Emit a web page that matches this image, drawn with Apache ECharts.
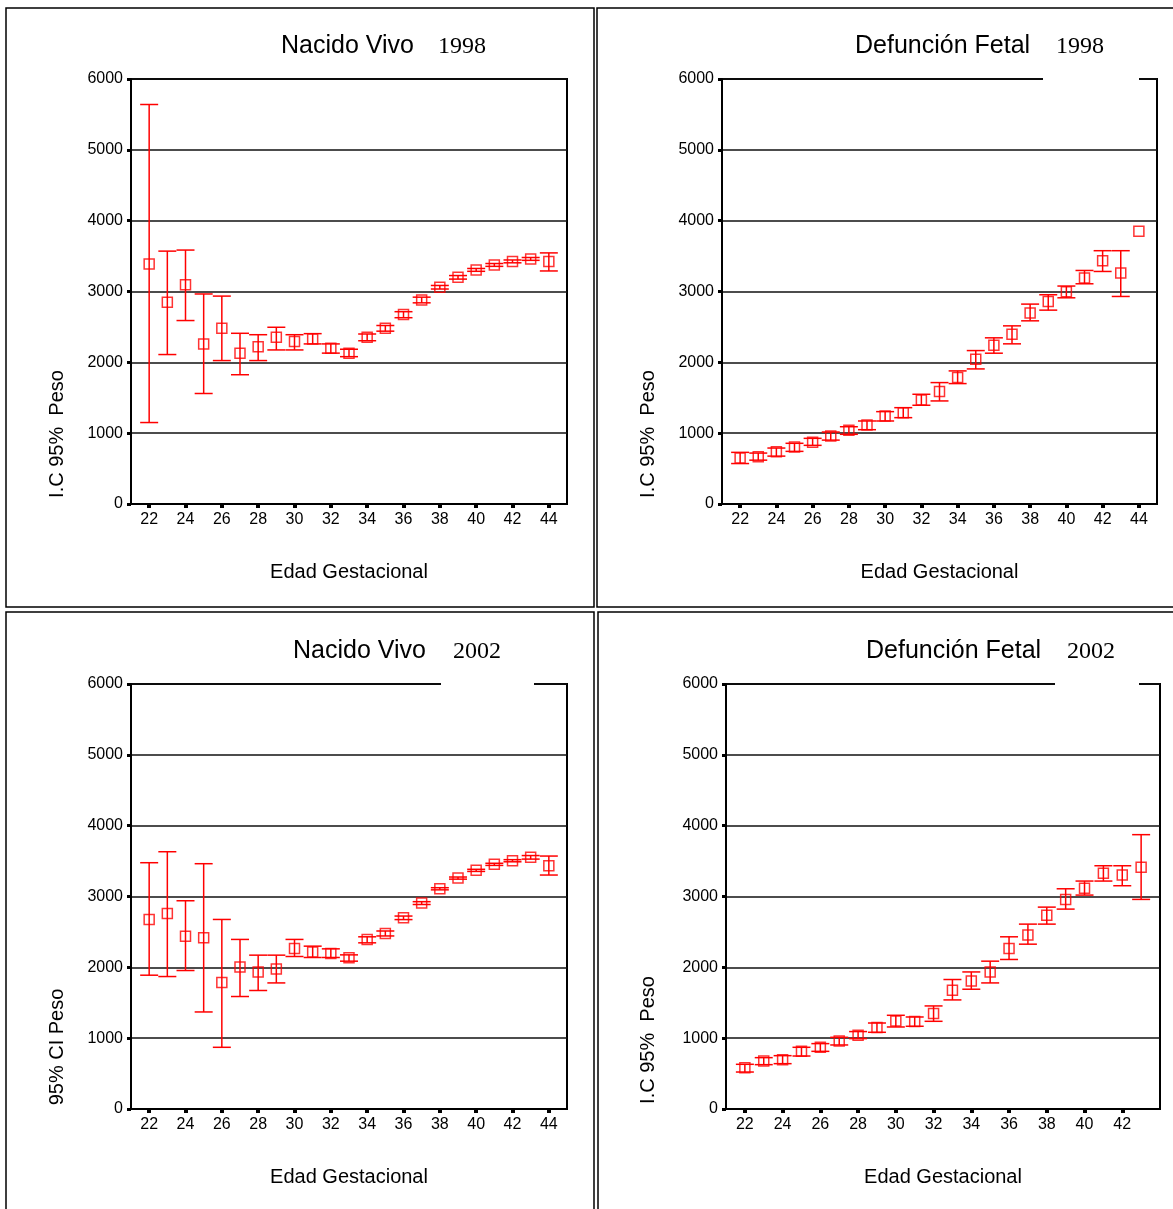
<!DOCTYPE html>
<html>
<head>
<meta charset="utf-8">
<script src="https://cdn.jsdelivr.net/npm/echarts@6/dist/echarts.min.js"></script>
<style>html,body{margin:0;padding:0;background:#fff}#c{width:1173px;height:1209px}</style>
</head>
<body>
<div id="c"></div>
<script>
// ---- Data ----
const ages1 = [22,23,24,25,26,27,28,29,30,31,32,33,34,35,36,37,38,39,40,41,42,43,44];
const ages4 = [22,23,24,25,26,27,28,29,30,31,32,33,34,35,36,37,38,39,40,41,42,43];
const ticksA = [22,24,26,28,30,32,34,36,38,40,42,44];
const ticksB = [22,24,26,28,30,32,34,36,38,40,42];

const nv98Mean = [3390,2850,3095,2260,2480,2130,2220,2355,2295,2330,2200,2130,2355,2480,2675,2880,3060,3200,3305,3375,3425,3460,3425];
const nv98Lo   = [1150,2110,2590,1560,2025,1825,2025,2175,2175,2260,2130,2080,2305,2440,2630,2840,3035,3175,3285,3355,3405,3440,3290];
const nv98Hi   = [5640,3570,3585,2965,2935,2410,2390,2495,2390,2405,2260,2185,2400,2520,2715,2920,3085,3225,3325,3395,3445,3480,3545];

const df98Mean = [650,667,738,805,871,959,1040,1115,1243,1290,1469,1587,1785,2044,2242,2398,2695,2859,2996,3190,3434,3260,3849];
const df98Lo   = [571,619,676,743,828,902,984,1049,1172,1219,1394,1455,1700,1907,2129,2261,2586,2737,2911,3109,3283,2930,3849];
const df98Hi   = [729,719,790,857,927,1016,1091,1172,1304,1360,1549,1714,1879,2166,2346,2515,2822,2954,3077,3297,3576,3576,3849];

const nv02Mean = [2676,2761,2440,2416,1786,2006,1935,1978,2266,2218,2196,2134,2394,2478,2699,2907,3109,3260,3369,3454,3505,3553,3434];
const nv02Lo   = [1889,1870,1955,1370,871,1588,1673,1780,2153,2139,2139,2087,2346,2443,2674,2887,3094,3245,3354,3439,3490,3528,3303];
const nv02Hi   = [3477,3632,2940,3463,2676,2394,2172,2172,2394,2299,2261,2176,2431,2513,2724,2927,3124,3275,3384,3469,3520,3578,3571];

const df02Mean = [584,677,697,814,871,960,1041,1149,1243,1234,1347,1677,1808,1935,2266,2455,2737,2959,3115,3327,3303,3412];
const df02Lo   = [522,626,640,748,814,904,994,1083,1158,1168,1238,1540,1691,1780,2111,2327,2610,2822,3020,3218,3152,2959];
const df02Hi   = [631,725,753,871,923,1012,1093,1214,1323,1299,1455,1828,1935,2087,2431,2610,2850,3109,3218,3434,3434,3873];

const titlesMain = ['Nacido Vivo','Defunción Fetal','Nacido Vivo','Defunción Fetal'];
const titlesYear = ['1998','1998','2002','2002'];
const yNames = ['I.C 95%  Peso','I.C 95%  Peso','95% CI Peso','I.C 95%  Peso'];
const xName = 'Edad Gestacional';

// ---- Chart ----
const RED = '#ff0000';
const SANS = '"Liberation Sans", Arial, sans-serif';
const SERIF = '"Liberation Serif", "Times New Roman", serif';

const grids = [
  {left:131, top:79, width:436, height:425},
  {left:722, top:79, width:435, height:425},
  {left:131, top:684, width:436, height:425},
  {left:726, top:684, width:434, height:425}
];
const xMax = [45,45,45,44];
const xTicks = [ticksA, ticksA, ticksA, ticksB];

function errRender(params, api) {
  const x = api.value(0), lo = api.value(1), hi = api.value(2);
  if (!(hi > lo)) return null;
  const p1 = api.coord([x, hi]), p2 = api.coord([x, lo]);
  const w = 9;
  const st = {stroke: RED, lineWidth: 1.5, fill: null};
  return {type:'group', children:[
    {type:'line', shape:{x1:p1[0], y1:p1[1], x2:p2[0], y2:p2[1]}, style:st},
    {type:'line', shape:{x1:p1[0]-w, y1:p1[1], x2:p1[0]+w, y2:p1[1]}, style:st},
    {type:'line', shape:{x1:p2[0]-w, y1:p2[1], x2:p2[0]+w, y2:p2[1]}, style:st}
  ]};
}

const sets = [
  [ages1, nv98Mean, nv98Lo, nv98Hi],
  [ages1, df98Mean, df98Lo, df98Hi],
  [ages1, nv02Mean, nv02Lo, nv02Hi],
  [ages4, df02Mean, df02Lo, df02Hi]
];

const series = [];
sets.forEach((s, i) => {
  const [ages, mean, lo, hi] = s;
  series.push({
    type:'custom', xAxisIndex:i, yAxisIndex:i, renderItem: errRender,
    encode:{x:0, y:[1,2]}, z:2, silent:true,
    data: ages.map((a, k) => [a, lo[k], hi[k]])
  });
  series.push({
    type:'scatter', xAxisIndex:i, yAxisIndex:i, symbol:'rect', symbolSize:10, z:3, silent:true,
    itemStyle:{color:'rgba(0,0,0,0)', borderColor:RED, borderWidth:1.5},
    data: ages.map((a, k) => [a, mean[k]])
  });
});

const xAxes = grids.map((g, i) => ({
  type:'value', gridIndex:i, min:21, max:xMax[i],
  name: xName, nameLocation:'middle', nameGap:58,
  nameTextStyle:{fontFamily:SANS, fontSize:20, color:'#000'},
  axisLine:{show:true, onZero:false, lineStyle:{color:'#000', width:2}},
  axisTick:{show:true, customValues:xTicks[i], length:4, inside:false, lineStyle:{color:'#000', width:4}},
  axisLabel:{show:true, customValues:xTicks[i], margin:8, fontFamily:SANS, fontSize:16, color:'#000',
    formatter: v => String(v)},
  splitLine:{show:false}
}));
const yAxes = grids.map((g, i) => ({
  type:'value', gridIndex:i, min:0, max:6000, interval:1000,
  axisLine:{show:true, lineStyle:{color:'#000', width:2}},
  axisTick:{show:true, length:4, lineStyle:{color:'#000', width:3}},
  axisLabel:{margin:8, fontFamily:SANS, fontSize:16, color:'#000', formatter: v => String(v)},
  splitLine:{show:true, lineStyle:{color:'#111', width:1.5}}
}));

const titlePos = [[276,29,24],[850,29,26],[288,634,27],[861,634,26]];
const title = titlePos.map((p, i) => ({
  left:p[0], top:p[1],
  text:'{a|' + titlesMain[i] + '}{b|' + titlesYear[i] + '}',
  textStyle:{fontWeight:'normal', rich:{
    a:{fontFamily:SANS, fontSize:25, fontWeight:'normal', color:'#000'},
    b:{fontFamily:SERIF, fontSize:24, fontWeight:'normal', color:'#000', padding:[0,0,0,p[2]]}
  }}
}));

const yNamePos = [[57,434],[648,434],[57,1047],[648,1040]];
const graphic = [];
// panel frames
[[6,8,588,599],[597,8,580,599],[6,612,588,602],[598,612,580,602]].forEach(r => {
  graphic.push({type:'rect', z:50, silent:true, shape:{x:r[0], y:r[1], width:r[2], height:r[3]},
    style:{fill:null, stroke:'#000', lineWidth:1.5}});
});
// gaps in top frame line
[[1043,74,96,8],[441,679,93,8],[1055,679,84,8]].forEach(r => {
  graphic.push({type:'rect', z:60, silent:true, shape:{x:r[0], y:r[1], width:r[2], height:r[3]},
    style:{fill:'#fff', stroke:null}});
});
yNamePos.forEach((p, i) => {
  graphic.push({type:'text', z:50, silent:true, x:p[0], y:p[1], rotation:Math.PI/2,
    style:{text:yNames[i], fontFamily:SANS, fontSize:20, fill:'#000', align:'center', verticalAlign:'middle'}});
});

const chart = echarts.init(document.getElementById('c'), null, {renderer:'canvas'});
chart.setOption({
  backgroundColor:'#fff',
  animation:false,
  title: title,
  grid: grids.map(g => Object.assign({show:true, borderColor:'#000', borderWidth:2, backgroundColor:'rgba(0,0,0,0)'}, g)),
  xAxis: xAxes,
  yAxis: yAxes,
  series: series,
  graphic: graphic
});
</script>
</body>
</html>
